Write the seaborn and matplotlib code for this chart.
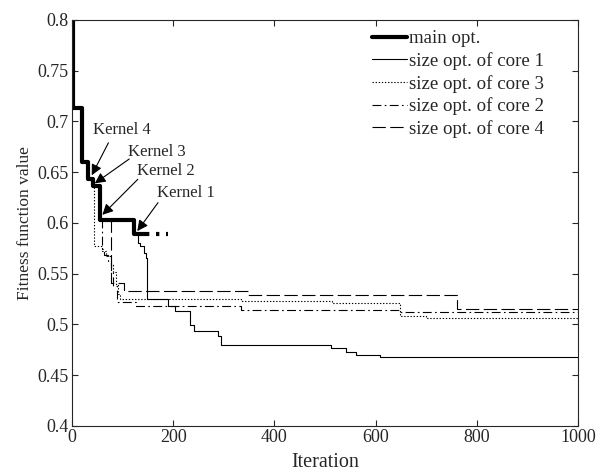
import matplotlib
matplotlib.use('Agg')
import matplotlib.pyplot as plt
from matplotlib.ticker import FormatStrFormatter, MultipleLocator
import seaborn as sns

# convergence curves (step functions)
main_x = [0, 2, 19, 31, 41, 55, 123, 146]
main_y = [0.800, 0.713, 0.660, 0.643, 0.636, 0.603, 0.589, 0.589]
# dotted tail of the main run
tail_x = [146, 190]
tail_y = [0.589, 0.589]

core1_x = [123, 130, 135, 142, 146, 148, 190, 204, 233, 241, 289, 295, 511, 542, 562, 608, 1000]
core1_y = [0.589, 0.580, 0.577, 0.570, 0.565, 0.525, 0.518, 0.513, 0.499, 0.494, 0.489, 0.480,
           0.4765, 0.473, 0.470, 0.4675, 0.4675]

core3_x = [40, 43, 60, 67, 77, 81, 87, 90, 94, 334, 513, 649, 699, 1000]
core3_y = [0.636, 0.577, 0.572, 0.567, 0.559, 0.552, 0.540, 0.530, 0.5255, 0.5235, 0.5216,
           0.5084, 0.5068, 0.5068]

core2_x = [58, 60, 64, 72, 77, 81, 88, 127, 334, 648, 1000]
core2_y = [0.603, 0.574, 0.568, 0.562, 0.552, 0.538, 0.522, 0.518, 0.514, 0.5125, 0.5125]

core4_x = [76, 77, 78, 102, 348, 761, 1000]
core4_y = [0.603, 0.551, 0.541, 0.533, 0.529, 0.5157, 0.5157]

labels = ['main opt.', 'size opt. of core 1', 'size opt. of core 3',
          'size opt. of core 2', 'size opt. of core 4']

sns.set_style('ticks')
plt.rcParams['font.family'] = ['Liberation Serif', 'DejaVu Serif']

fig = plt.figure(figsize=(5.97, 4.72), dpi=100)
ax = fig.add_axes([0.1206, 0.0975, 0.8476, 0.8602])

common = dict(ax=ax, drawstyle='steps-post', color='black', estimator=None, sort=False)
sns.lineplot(x=main_x, y=main_y, lw=3, label=labels[0], **common)
sns.lineplot(x=tail_x, y=tail_y, lw=3, dashes=(0.8, 1.6), **common)
sns.lineplot(x=core1_x, y=core1_y, lw=0.8, label=labels[1], **common)
sns.lineplot(x=core3_x, y=core3_y, lw=0.8, dashes=(1.2, 1.6), label=labels[2], **common)
sns.lineplot(x=core2_x, y=core2_y, lw=0.8, dashes=(8, 3, 1.5, 3), label=labels[3], **common)
sns.lineplot(x=core4_x, y=core4_y, lw=0.8, dashes=(12, 4), label=labels[4], **common)

ax.set_xlim(0, 1000)
ax.set_ylim(0.4, 0.8)
ax.xaxis.set_major_locator(MultipleLocator(200))
ax.yaxis.set_major_locator(MultipleLocator(0.05))
ax.yaxis.set_major_formatter(FormatStrFormatter('%g'))
ax.tick_params(direction='in', top=True, right=True, labelsize=13, length=4, pad=2.5)
for s in ax.spines.values():
    s.set_linewidth(0.8)

ax.set_xlabel('Iteration', fontsize=14.5, labelpad=5)
ax.set_ylabel('Fitness function value', fontsize=12.5, labelpad=3)

# kernel annotations
arrow = dict(arrowstyle='-|>', color='black', lw=0.8, mutation_scale=16, shrinkA=0, shrinkB=0)
notes = [('Kernel 4', (41, 0.692), (72, 0.679), (39, 0.647)),
         ('Kernel 3', (110, 0.670), (113, 0.663), (45, 0.639)),
         ('Kernel 2', (128, 0.651), (130, 0.643), (60, 0.608)),
         ('Kernel 1', (168, 0.630), (170, 0.620), (129, 0.592))]
for txt, tpos, start, tip in notes:
    ax.text(tpos[0], tpos[1], txt, fontsize=12, ha='left', va='center')
    ax.annotate('', xy=tip, xytext=start, arrowprops=arrow)

h, l = ax.get_legend_handles_labels()
ax.legend(h, l, loc='upper left', bbox_to_anchor=(0.593, 0.975), frameon=False,
          fontsize=13.6, handlelength=1.85, handletextpad=0.1, labelspacing=0.25,
          borderaxespad=0, borderpad=0)

fig.savefig('out.png', dpi=100)
